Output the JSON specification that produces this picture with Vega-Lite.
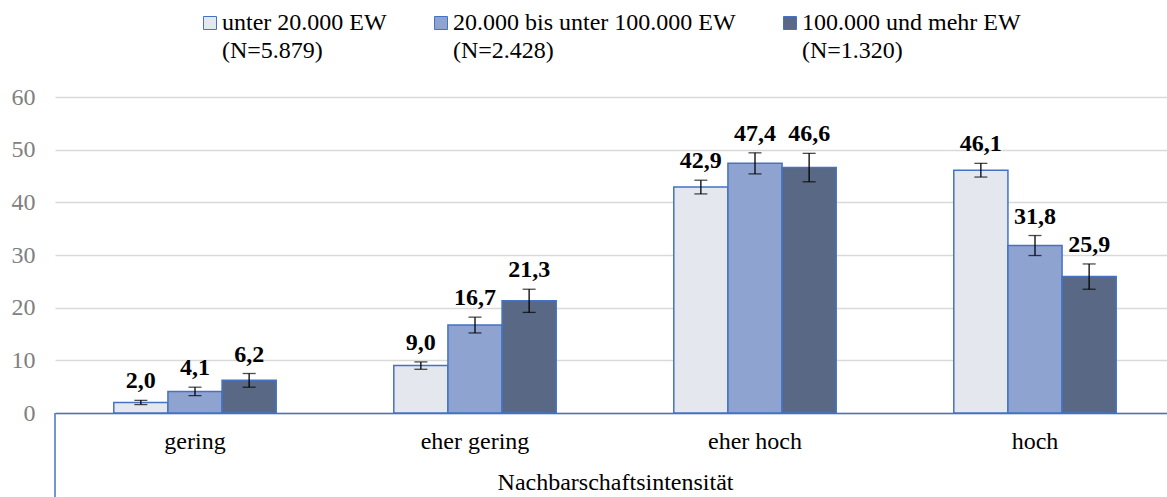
{
  "$schema": "https://vega.github.io/schema/vega-lite/v6.json",
  "width": 1112,
  "height": 316,
  "autosize": {"type": "none"},
  "padding": {"left": 55, "top": 97, "right": 0, "bottom": 84},
  "background": "white",
  "config": {
    "locale": {"number": {"decimal": ",", "thousands": ".", "grouping": [3], "currency": ["", " €"]}},
    "view": {"stroke": null},
    "font": "Liberation Serif, Times New Roman, serif"
  },
  "data": {
    "values": [
      {"kat": "gering", "gruppe": "unter 20.000 EW", "wert": 2.0, "lo": 1.6, "hi": 2.4},
      {"kat": "gering", "gruppe": "20.000 bis unter 100.000 EW", "wert": 4.1, "lo": 3.3, "hi": 4.9},
      {"kat": "gering", "gruppe": "100.000 und mehr EW", "wert": 6.2, "lo": 4.9, "hi": 7.5},
      {"kat": "eher gering", "gruppe": "unter 20.000 EW", "wert": 9.0, "lo": 8.3, "hi": 9.7},
      {"kat": "eher gering", "gruppe": "20.000 bis unter 100.000 EW", "wert": 16.7, "lo": 15.2, "hi": 18.2},
      {"kat": "eher gering", "gruppe": "100.000 und mehr EW", "wert": 21.3, "lo": 19.1, "hi": 23.5},
      {"kat": "eher hoch", "gruppe": "unter 20.000 EW", "wert": 42.9, "lo": 41.6, "hi": 44.2},
      {"kat": "eher hoch", "gruppe": "20.000 bis unter 100.000 EW", "wert": 47.4, "lo": 45.4, "hi": 49.4},
      {"kat": "eher hoch", "gruppe": "100.000 und mehr EW", "wert": 46.6, "lo": 43.9, "hi": 49.3},
      {"kat": "hoch", "gruppe": "unter 20.000 EW", "wert": 46.1, "lo": 44.8, "hi": 47.4},
      {"kat": "hoch", "gruppe": "20.000 bis unter 100.000 EW", "wert": 31.8, "lo": 29.9, "hi": 33.7},
      {"kat": "hoch", "gruppe": "100.000 und mehr EW", "wert": 25.9, "lo": 23.5, "hi": 28.3}
    ]
  },
  "layer": [
    {
      "encoding": {
        "x": {
          "field": "kat", "type": "nominal",
          "sort": ["gering", "eher gering", "eher hoch", "hoch"],
          "scale": {"range": [0, 1120], "paddingInner": 0.42, "paddingOuter": 0.21},
          "title": "Nachbarschaftsintensität",
          "axis": {
            "labelAngle": 0,
            "labelFont": "Liberation Serif, Times New Roman, serif", "labelFontSize": 24, "labelColor": "#000000",
            "labelBaseline": "alphabetic", "labelPadding": 35,
            "ticks": false, "tickSize": 0,
            "domainColor": "#4472C4", "domainWidth": 1.5,
            "grid": false,
            "titleFont": "Liberation Serif, Times New Roman, serif", "titleFontSize": 24, "titleFontWeight": "normal", "titleColor": "#000000",
            "titleBaseline": "alphabetic", "titleX": 560, "titleY": 76
          }
        },
        "xOffset": {
          "field": "gruppe", "type": "nominal",
          "sort": ["unter 20.000 EW", "20.000 bis unter 100.000 EW", "100.000 und mehr EW"],
          "scale": {"paddingInner": 0, "paddingOuter": 0}
        }
      },
      "layer": [
        {
          "mark": {"type": "bar", "stroke": "#4472C4", "strokeWidth": 1.5},
          "encoding": {
            "y": {
              "field": "wert", "type": "quantitative",
              "scale": {"domain": [0, 60]},
              "title": null,
              "axis": {
                "values": [0, 10, 20, 30, 40, 50, 60],
                "labelFont": "Liberation Serif, Times New Roman, serif", "labelFontSize": 24, "labelColor": "#808080",
                "labelPadding": 20, "ticks": false, "tickSize": 0, "domain": false,
                "grid": true, "gridColor": "#D9D9D9", "gridWidth": 1.3
              }
            },
            "color": {
              "field": "gruppe", "type": "nominal",
              "sort": ["unter 20.000 EW", "20.000 bis unter 100.000 EW", "100.000 und mehr EW"],
              "scale": {"range": ["#E4E7ED", "#8FA3D1", "#596985"]},
              "legend": {
                "title": null,
                "orient": "none", "legendX": 143, "legendY": -86,
                "direction": "horizontal", "padding": 0,
                "symbolType": "square", "symbolSize": 169,
                "symbolStrokeColor": "#4472C4", "symbolStrokeWidth": 1,
                "labelFont": "Liberation Serif, Times New Roman, serif", "labelFontSize": 24, "labelColor": "#000000",
                "labelOffset": 0, "columnPadding": 42, "labelLimit": 0,
                "labelBaseline": "middle",
                "labelExpr": "datum.label == 'unter 20.000 EW' ? ['unter 20.000 EW', '(N=5.879)'] : datum.label == '20.000 bis unter 100.000 EW' ? ['20.000 bis unter 100.000 EW', '(N=2.428)'] : ['100.000 und mehr EW', '(N=1.320)']",
                "encode": {"labels": {"update": {"lineHeight": {"value": 28}}}}
              }
            }
          }
        },
        {
          "mark": {"type": "rule", "color": "#000000", "strokeWidth": 1.3},
          "encoding": {
            "y": {"field": "lo", "type": "quantitative"},
            "y2": {"field": "hi"}
          }
        },
        {
          "mark": {"type": "tick", "color": "#000000", "thickness": 1.3, "size": 13, "orient": "horizontal"},
          "encoding": {"y": {"field": "lo", "type": "quantitative"}}
        },
        {
          "mark": {"type": "tick", "color": "#000000", "thickness": 1.3, "size": 13, "orient": "horizontal"},
          "encoding": {"y": {"field": "hi", "type": "quantitative"}}
        },
        {
          "mark": {"type": "text", "dy": -12, "baseline": "alphabetic", "fontWeight": "bold", "fontSize": 24, "font": "Liberation Serif, Times New Roman, serif", "color": "#000000"},
          "encoding": {
            "y": {"field": "hi", "type": "quantitative"},
            "text": {"field": "wert", "type": "quantitative", "format": ".1f"}
          }
        }
      ]
    },
    {
      "data": {"values": [{"rahmen": "links"}]},
      "mark": {"type": "rule", "color": "#4472C4", "strokeWidth": 1.5},
      "encoding": {
        "x": {"value": 0},
        "y": {"datum": 0, "type": "quantitative"},
        "y2": {"datum": -16}
      }
    }
  ]
}
